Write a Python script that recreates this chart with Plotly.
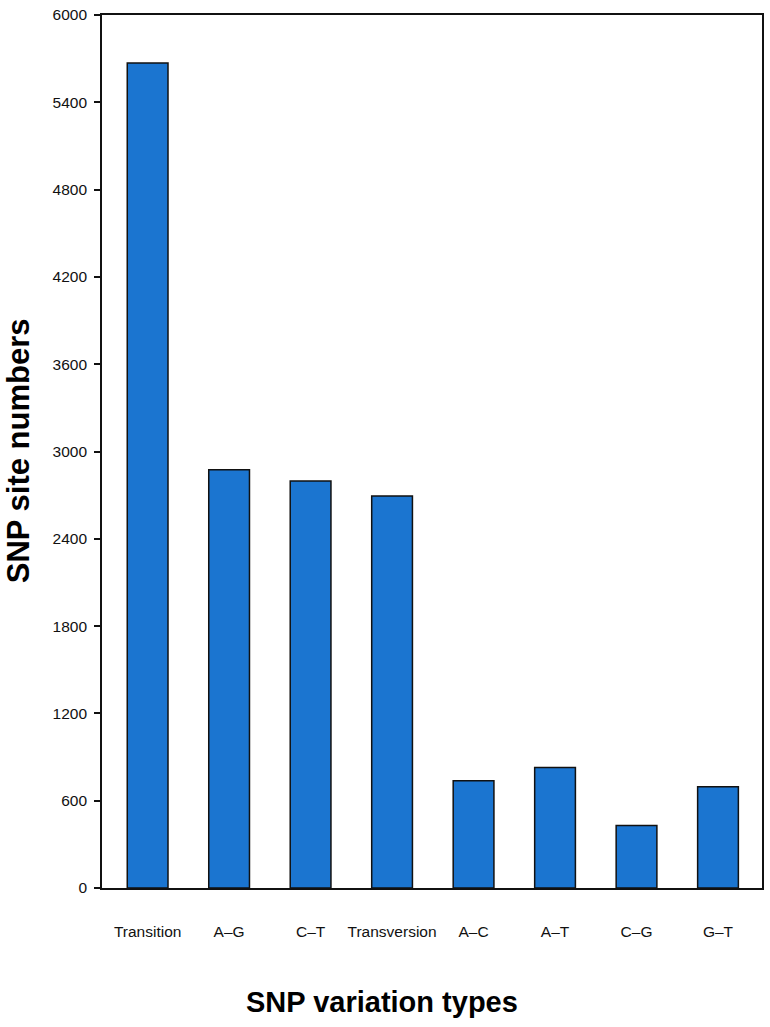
import plotly.graph_objects as go

categories = ["Transition", "A\u2013G", "C\u2013T", "Transversion", "A\u2013C", "A\u2013T", "C\u2013G", "G\u2013T"]
snp_counts = [5670, 2875, 2798, 2695, 737, 828, 429, 696]
y_ticks = [0, 600, 1200, 1800, 2400, 3000, 3600, 4200, 4800, 5400, 6000]

regular = "Liberation Sans, Arial, Helvetica, sans-serif"

fig = go.Figure(
    go.Bar(
        x=list(range(len(categories))),
        y=snp_counts,
        width=0.5,
        marker=dict(color="#1B75D0", line=dict(color="#111111", width=1.5)),
    )
)

fig.update_layout(
    width=770,
    height=1027,
    margin=dict(l=102, r=6, t=11, b=139),
    paper_bgcolor="white",
    plot_bgcolor="white",
    showlegend=False,
    xaxis=dict(
        range=[-0.56, 7.54],
        tickmode="array",
        tickvals=list(range(len(categories))),
        ticktext=categories,
        tickfont=dict(family=regular, size=15.5, color="#111111"),
        showline=True,
        linecolor="#111111",
        linewidth=1.6,
        mirror=True,
        ticks="",
        ticklabelstandoff=29,
        showgrid=False,
        zeroline=False,
    ),
    yaxis=dict(
        range=[0, 6000],
        tickmode="array",
        tickvals=y_ticks,
        ticktext=[str(v) for v in y_ticks],
        tickfont=dict(family=regular, size=15.5, color="#111111"),
        showline=True,
        linecolor="#111111",
        linewidth=1.6,
        mirror=True,
        ticks="outside",
        ticklen=6,
        tickwidth=1.5,
        tickcolor="#111111",
        ticklabelstandoff=4,
        showgrid=False,
        zeroline=False,
    ),
    annotations=[
        dict(
            text="<b>SNP variation types</b>",
            xref="paper", yref="paper",
            x=0.4245, y=-0.131,
            xanchor="center", yanchor="middle",
            showarrow=False,
            font=dict(family=regular, size=29, color="black"),
        ),
        dict(
            text="<b>SNP site numbers</b>",
            xref="paper", yref="paper",
            x=-0.1254, y=0.5006,
            xanchor="center", yanchor="middle",
            textangle=-90,
            showarrow=False,
            font=dict(family=regular, size=31, color="black"),
        ),
    ],
)

# remove the browser's default page margin so the figure sits at the window's corner
fig.write_html(
    "out.html",
    config={"displayModeBar": False},
    post_script="document.body.style.margin='0px';",
)
